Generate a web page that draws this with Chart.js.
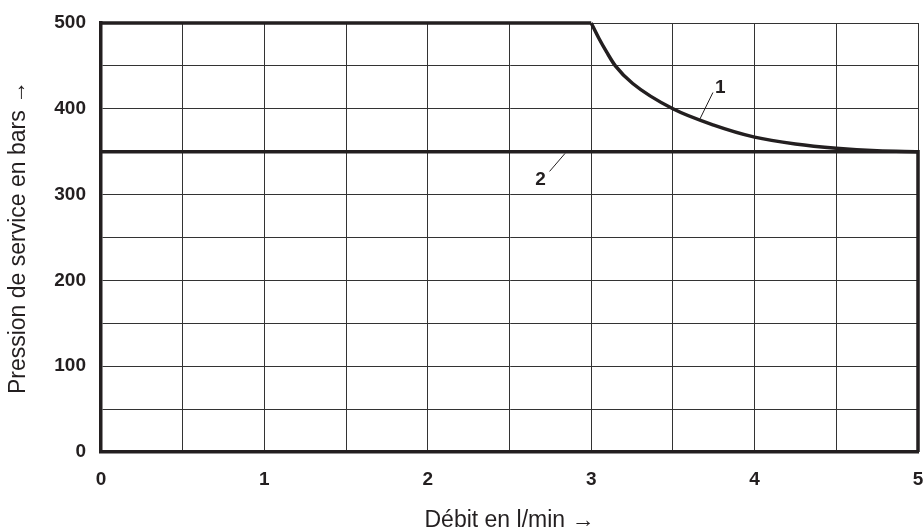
<!DOCTYPE html>
<html>
<head>
<meta charset="utf-8">
<script src="https://cdn.jsdelivr.net/npm/chart.js@4"></script>
<style>
  html, body { margin: 0; padding: 0; background: #fff; }
  #wrap { width: 923px; height: 532px; }
</style>
</head>
<body>
<div id="wrap"><canvas id="graphe"></canvas></div>
<script>
// courbe 1 : limite de pression (partie plate puis décroissance)
const courbe1Plat = [[0, 500], [3, 500]];
const courbe1X = [3, 3.046, 3.095, 3.148, 3.254, 3.5, 3.75, 4, 4.25, 4.5, 4.75, 5];
const courbe1Y = [500, 482.5, 466, 450, 429.5, 400, 381, 367, 359, 354, 351, 350];
// courbe 2 : pression constante
const courbe2X = [0, 5, 5];
const courbe2Y = [350, 350, 0];

const xTicks = [0, 1, 2, 3, 4, 5];
const yTicks = [0, 100, 200, 300, 400, 500];

const encre = '#231f20';
const police = '"Liberation Sans", Arial, sans-serif';
const pts = (xs, ys) => xs.map((x, i) => ({ x, y: ys[i] }));

// repères "1" et "2" avec leur trait
const reperes = {
  id: 'reperes',
  afterDatasetsDraw(chart) {
    const { ctx, scales: { x, y } } = chart;
    const items = [
      { t: '1', tx: 3.79, ty: 425, a: [3.665, 388], b: [3.745, 419] },
      { t: '2', tx: 2.69, ty: 317, a: [2.745, 327], b: [2.84, 348] }
    ];
    ctx.save();
    ctx.strokeStyle = encre;
    ctx.lineWidth = 1;
    ctx.fillStyle = encre;
    ctx.font = 'bold 19px ' + police;
    ctx.textAlign = 'center';
    ctx.textBaseline = 'middle';
    items.forEach(it => {
      ctx.beginPath();
      ctx.moveTo(x.getPixelForValue(it.a[0]), y.getPixelForValue(it.a[1]));
      ctx.lineTo(x.getPixelForValue(it.b[0]), y.getPixelForValue(it.b[1]));
      ctx.stroke();
      ctx.fillText(it.t, x.getPixelForValue(it.tx), y.getPixelForValue(it.ty));
    });
    ctx.restore();
  }
};

new Chart(document.getElementById('graphe'), {
  type: 'scatter',
  data: {
    datasets: [
      { data: courbe1Plat.map(p => ({ x: p[0], y: p[1] })), showLine: true, borderColor: encre, borderWidth: 3.5, pointRadius: 0, clip: false },
      { data: pts(courbe1X, courbe1Y), showLine: true, borderColor: encre, borderWidth: 3.5, pointRadius: 0, cubicInterpolationMode: 'monotone', clip: false },
      { data: pts(courbe2X, courbe2Y), showLine: true, borderColor: encre, borderWidth: 3.5, pointRadius: 0, clip: false }
    ]
  },
  options: {
    responsive: true,
    maintainAspectRatio: false,
    animation: false,
    layout: { padding: { top: 23, right: 5, left: 0, bottom: 0 } },
    plugins: { legend: { display: false }, tooltip: { enabled: false } },
    scales: {
      x: {
        type: 'linear', min: 0, max: 5,
        afterFit: s => { s.height = 80; s.paddingLeft = 0; s.paddingRight = 0; },
        afterBuildTicks: s => { s.ticks = []; for (let v = 0; v <= 5; v += 0.5) s.ticks.push({ value: v }); },
        grid: { color: '#333', lineWidth: 1, drawTicks: false },
        border: { display: true, color: encre, width: 3.5 },
        ticks: {
          padding: 16, color: encre,
          font: { family: police, size: 19, weight: 'bold' },
          callback: v => xTicks.includes(v) ? String(v) : ''
        },
        title: {
          display: true, text: 'Débit en l/min →', color: encre,
          font: { family: police, size: 23 },
          padding: { top: 18, bottom: -2 }
        }
      },
      y: {
        type: 'linear', min: 0, max: 500,
        afterFit: s => { s.width = 101; s.paddingTop = 0; s.paddingBottom = 0; },
        afterBuildTicks: s => { s.ticks = []; for (let v = 0; v <= 500; v += 50) s.ticks.push({ value: v }); },
        grid: { color: '#333', lineWidth: 1, drawTicks: false },
        border: { display: true, color: encre, width: 3.5 },
        ticks: {
          padding: 15, color: encre,
          font: { family: police, size: 19, weight: 'bold' },
          callback: v => yTicks.includes(v) ? String(v) : ''
        },
        title: {
          display: true, text: 'Pression de service en bars →', color: encre,
          font: { family: police, size: 23 },
          padding: { top: 5, bottom: 0 }
        }
      }
    }
  },
  plugins: [reperes]
});
</script>
</body>
</html>
